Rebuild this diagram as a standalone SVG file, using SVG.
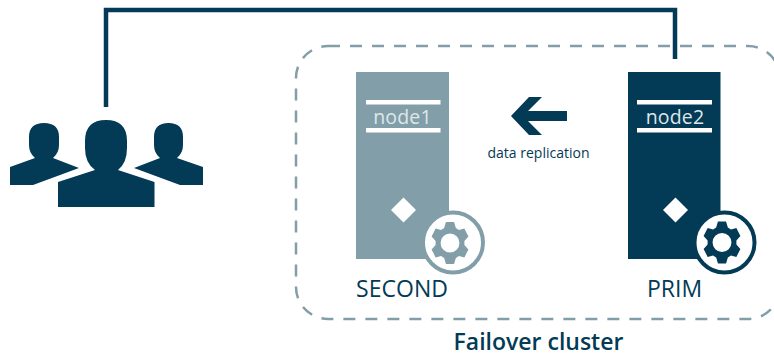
<svg xmlns="http://www.w3.org/2000/svg" width="774" height="354" viewBox="0 0 774 354">
<style>
text{font-family:"Open Sans","Liberation Sans",sans-serif;text-anchor:middle}
.d{fill:#033a56}.l{fill:#829ea9}.w{fill:#fff}
.lab{font-size:19.500px;letter-spacing:.2px;fill:#dfe7ea}
.st{font-size:23px;fill:#033a56}
.ring{fill:#fff;stroke-width:4}
</style>
<defs>
<path id="gear" fill-rule="evenodd" transform="scale(.9,1)" d="M-6.500-15-4.500-21H4.500L6.500-15 10-13 15.940-14.400 20.440-6.600 16-2V2L20.440 6.600 15.940 14.400 10 13 6.500 15 4.500 21H-4.500L-6.500 15-10 13-15.940 14.400-20.440 6.600-16 2V-2L-20.440-6.600-15.940-14.400-10-13ZM0-9.500A10.500 9.500 0 1 0 0 9.500 10.500 9.500 0 1 0 0-9.500Z"/>
</defs>
<g id="cluster"><rect x="296" y="46" width="484" height="273" rx="32" fill="none" stroke="#829ea9" stroke-width="2.500" stroke-dasharray="12 10"/>
<text x="538.500" y="350" font-size="23" font-weight="600" fill="#033a56">Failover cluster</text></g>
<g id="connectors">
<path d="M106 107V10H675V59" fill="none" stroke="#033a56" stroke-width="4.500"/>
<path class="d" d="M511 116 529 97H542L528 111H567V121H528L542 135H529Z"/>
<text x="538.500" y="158" font-size="14" fill="#033a56">data replication</text>
</g>
<g id="users" class="d">
<path d="M10 167 35 158Q29 153 29 145V137Q29 123 44 123T59 137V145Q59 153 53 158L79 168 33 185H10Z"/>
<path d="M203 167 177 158Q183 153 183 145V137Q183 123 168.500 123T154 137V145Q154 153 160 158L134 168 180 185H203Z"/>
<path d="M58 182 95 170Q85 163 85 148V141Q85 120 106 120T127 141V148Q127 163 118 170L154.500 182V207H58Z"/>
</g>
<g id="node1">
<rect class="l" x="356" y="72" width="93" height="187"/>
<rect class="w" x="366" y="100" width="74.500" height="4.500"/><rect class="w" x="366" y="128" width="74.500" height="4.500"/>
<text class="lab" x="402.500" y="124">node1</text>
<path class="w" d="M403.500 197.500 416 210 403.500 222.500 391 210Z"/>
<circle class="ring" cx="453" cy="242.500" r="30" stroke="#829ea9"/>
<use href="#gear" x="450" y="243" class="l"/>
<text class="st" x="402" y="297">SECOND</text>
</g>
<g id="node2">
<rect class="d" x="628" y="72" width="92.500" height="187"/>
<rect class="w" x="637" y="100" width="75" height="4.500"/><rect class="w" x="637" y="128" width="75" height="4.500"/>
<text class="lab" x="675" y="124">node2</text>
<path class="w" d="M675.500 197.500 688 210 675.500 222.500 663 210Z"/>
<circle class="ring" cx="724.500" cy="242.500" r="30" stroke="#033a56"/>
<use href="#gear" x="722" y="242.500" class="d"/>
<text class="st" x="674.500" y="297">PRIM</text>
</g>
</svg>
